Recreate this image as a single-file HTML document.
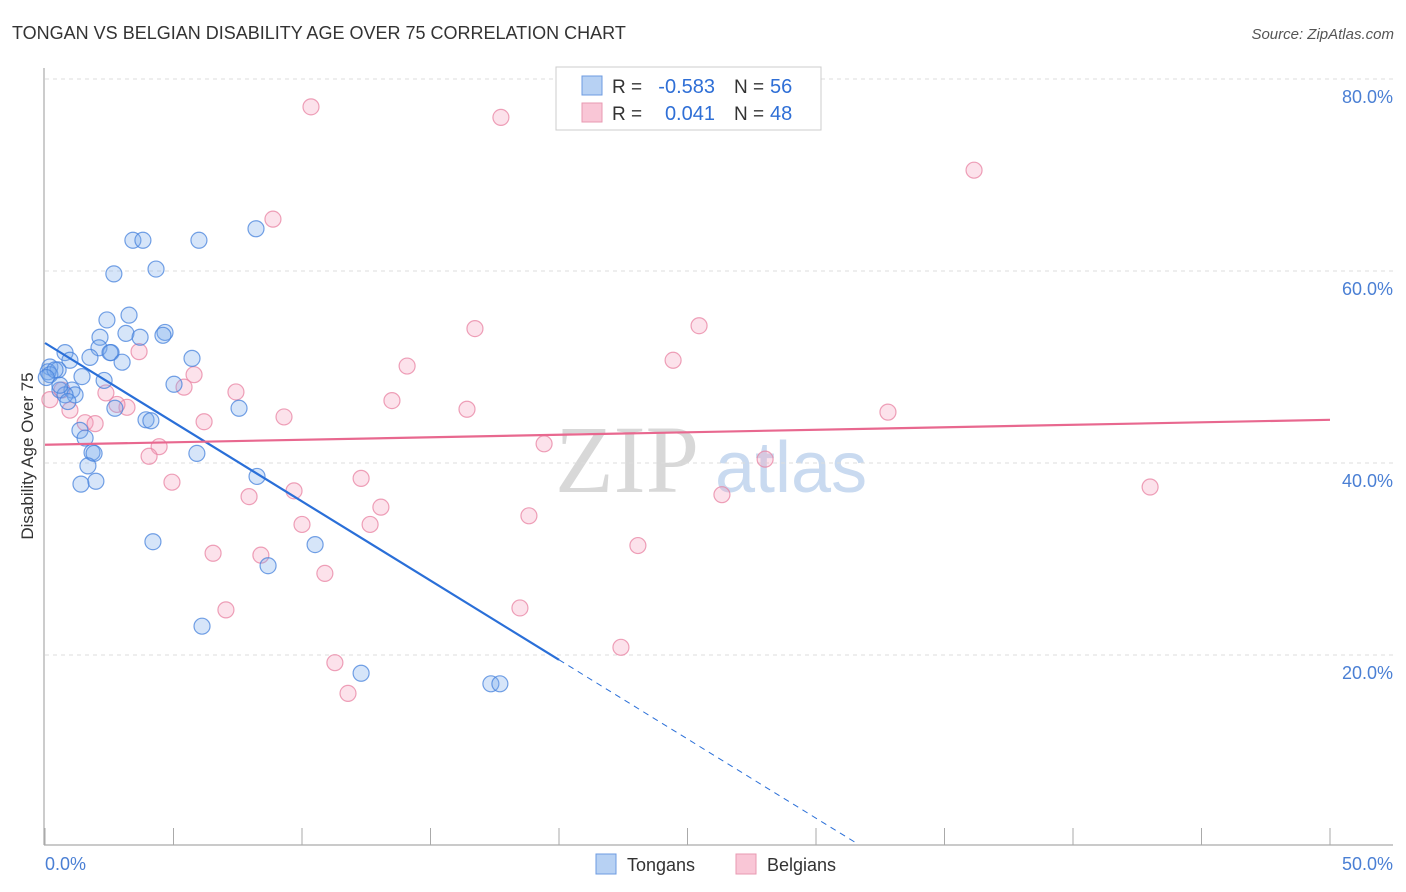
<!DOCTYPE html>
<html><head><meta charset="utf-8"><style>
body{margin:0;background:#fff;font-family:"Liberation Sans",sans-serif}
svg{display:block}
</style></head><body>
<svg id="chart" width="1406" height="892" xmlns="http://www.w3.org/2000/svg" font-family="Liberation Sans, sans-serif">
<text x="12" y="39" font-size="18" fill="#333">TONGAN VS BELGIAN DISABILITY AGE OVER 75 CORRELATION CHART</text>
<text x="1394" y="39" font-size="15" fill="#555" text-anchor="end" font-style="italic">Source: ZipAtlas.com</text>
<g>
<text x="555" y="492" font-size="96" font-family="Liberation Serif, serif" fill="#d8d8d8">ZIP</text>
<text x="715" y="492" font-size="72" fill="#c9daf0">atlas</text>
</g>
<g id="grid"></g>
<line x1="44" y1="68" x2="44" y2="845" stroke="#aaa" stroke-width="1.2"/>
<line x1="44" y1="845" x2="1393" y2="845" stroke="#aaa" stroke-width="1.2"/>
<g id="xticks"></g>
<g id="ylabels"></g>
<text x="45" y="870" font-size="18" fill="#4a7fd4">0.0%</text>
<text x="1393" y="870" font-size="18" fill="#4a7fd4" text-anchor="end">50.0%</text>
<text transform="translate(33,456) rotate(-90)" font-size="17" fill="#333" text-anchor="middle">Disability Age Over 75</text>
<g id="pinkpts"></g>
<g id="bluepts"></g>
<g id="trends"></g>
<g>
<rect x="556" y="67" width="265" height="63" fill="#fff" stroke="#ccc"/>
<rect x="582" y="76" width="20" height="19" fill="#b7d1f3" stroke="#6d9be0"/>
<rect x="582" y="103" width="20" height="19" fill="#f9c6d6" stroke="#e899b2"/>
<text x="612" y="93" font-size="19" fill="#333">R =</text>
<text x="715" y="93" font-size="20" fill="#2f6fd6" text-anchor="end">-0.583</text>
<text x="734" y="93" font-size="19" fill="#333">N =</text>
<text x="770" y="93" font-size="20" fill="#2f6fd6">56</text>
<text x="612" y="120" font-size="19" fill="#333">R =</text>
<text x="715" y="120" font-size="20" fill="#2f6fd6" text-anchor="end">0.041</text>
<text x="734" y="120" font-size="19" fill="#333">N =</text>
<text x="770" y="120" font-size="20" fill="#2f6fd6">48</text>
</g>
<g>
<g><rect x="596" y="854" width="20" height="20" fill="#b7d1f3" stroke="#6d9be0"/><text x="627" y="871" font-size="18" fill="#333">Tongans</text></g>
<g><rect x="736" y="854" width="20" height="20" fill="#f9c6d6" stroke="#e899b2"/><text x="767" y="871" font-size="18" fill="#333">Belgians</text></g>
</g>
</svg>
<script>
const yTicks=[20,40,60,80];
const yTickLabels=["20.0%","40.0%","60.0%","80.0%"];
const xTicks=[0,5,10,15,20,25,30,35,40,45,50];
const tonganX=[3.42,3.81,5.99,8.21,4.32,2.68,3.27,2.41,2.14,3.15,3.70,4.67,4.59,2.10,2.57,2.53,0.78,1.75,0.97,3.00,5.72,0.19,0.51,0.12,0.19,1.44,2.30,5.02,0.58,1.05,1.17,0.78,2.72,7.55,0.89,3.93,4.12,1.36,1.56,1.83,1.91,5.91,1.67,8.25,1.40,1.98,4.20,10.51,8.68,6.11,12.30,17.35,17.70,0.58,0.39,0.05];
const tonganY=[63.2,63.2,63.2,64.4,60.2,59.7,55.4,54.9,53.1,53.5,53.1,53.6,53.3,52.0,51.5,51.5,51.5,51.0,50.7,50.5,50.9,50.0,49.7,49.5,49.2,49.0,48.6,48.2,47.6,47.6,47.1,47.1,45.7,45.7,46.4,44.5,44.4,43.4,42.6,41.1,41.0,41.0,39.7,38.6,37.8,38.1,31.8,31.5,29.3,23.0,18.1,17.0,17.0,48.1,49.7,48.9];
const belgianX=[10.35,17.74,36.15,8.87,16.73,25.45,3.66,24.44,14.09,5.80,5.41,7.43,2.37,0.66,13.50,3.19,2.80,0.97,16.42,32.80,9.30,6.19,1.56,1.95,19.42,4.44,4.05,28.02,4.94,12.30,7.94,9.69,26.34,13.07,18.83,10.00,12.65,43.00,23.07,6.54,8.40,10.89,18.48,7.04,22.41,11.28,11.79,0.19];
const belgianY=[77.1,76.0,70.5,65.4,54.0,54.3,51.6,50.7,50.1,49.2,47.9,47.4,47.3,47.6,46.5,45.8,46.1,45.5,45.6,45.3,44.8,44.3,44.2,44.1,42.0,41.7,40.7,40.4,38.0,38.4,36.5,37.1,36.7,35.4,34.5,33.6,33.6,37.5,31.4,30.6,30.4,28.5,24.9,24.7,20.8,19.2,16.0,46.6];
const tonganTrend=[52.5,-1.65,20.0,31.6];
const belgianTrend=[41.9,0.052];
const NS="http://www.w3.org/2000/svg";
const sx=v=>45+v*25.7, sy=v=>847-v*9.6;
function mk(t,a,p){const e=document.createElementNS(NS,t);for(const k in a)e.setAttribute(k,a[k]);document.getElementById(p).appendChild(e);return e;}
yTicks.forEach((t,i)=>{
 const g=mk('line',{x1:45,x2:1393,y1:sy(t),y2:sy(t),stroke:'#ddd','stroke-dasharray':'4,4'},'grid');
 
 
 const l=mk('text',{x:1393,y:sy(t)+24,'font-size':18,fill:'#4a7fd4','text-anchor':'end'},'ylabels');
 l.textContent=yTickLabels[i];
 
 
});
xTicks.forEach(t=>{
 const m=mk('line',{x1:sx(t),x2:sx(t),y1:828,y2:845,stroke:'#aaa'},'xticks');
 
 
});
belgianX.forEach((x,i)=>{
 const c=mk('circle',{cx:sx(x),cy:sy(belgianY[i]),r:8,fill:'rgba(244,160,188,0.3)',stroke:'rgba(232,130,162,0.75)','stroke-width':1.2},'pinkpts');
 
 
});
tonganX.forEach((x,i)=>{
 const c=mk('circle',{cx:sx(x),cy:sy(tonganY[i]),r:8,fill:'rgba(120,170,235,0.3)',stroke:'rgba(70,130,220,0.75)','stroke-width':1.2},'bluepts');
 
 
});
const [bi,bs,be,bd]=tonganTrend;
let t1=mk('line',{x1:sx(0),y1:sy(bi),x2:sx(be),y2:sy(bi+bs*be),stroke:'#2a6fd8','stroke-width':2.2},'trends');


let t2=mk('line',{x1:sx(be),y1:sy(bi+bs*be),x2:sx(bd),y2:sy(bi+bs*bd),stroke:'#2a6fd8','stroke-width':1,'stroke-dasharray':'6,5'},'trends');


let t3=mk('line',{x1:sx(0),y1:sy(belgianTrend[0]),x2:sx(50),y2:sy(belgianTrend[0]+belgianTrend[1]*50),stroke:'#e8688f','stroke-width':2.2},'trends');


</script>
</body></html>
